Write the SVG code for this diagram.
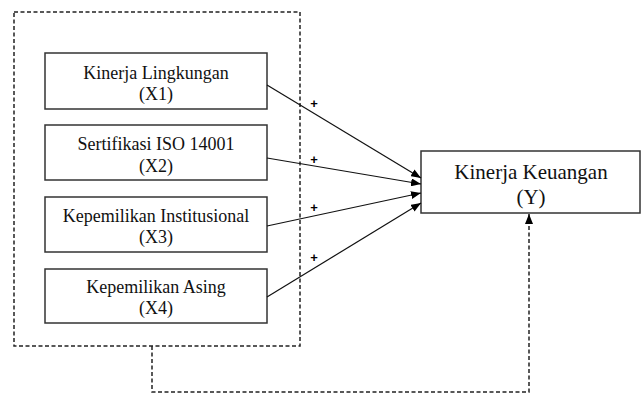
<svg xmlns="http://www.w3.org/2000/svg" width="641" height="394" viewBox="0 0 641 394">
<defs>
<marker id="ah" viewBox="0 0 10 8" refX="10" refY="4" markerWidth="10" markerHeight="8" markerUnits="userSpaceOnUse" orient="auto">
<path d="M0,0 L10,4 L0,8 Z" fill="#000"/>
</marker>
<style>
.box{fill:#fff;stroke:#333;stroke-width:1.5}
.t{font-family:"Liberation Serif","Times New Roman",serif;font-size:18px;fill:#111;text-anchor:middle}
.ty{font-family:"Liberation Serif","Times New Roman",serif;font-size:21px;fill:#111;text-anchor:middle}
.dash{fill:none;stroke:#222;stroke-width:1.5;stroke-dasharray:4 2.5}
.ln{fill:none;stroke:#111;stroke-width:1.2}
.pl{font-family:"Liberation Sans",Arial,sans-serif;font-size:13px;font-weight:bold;fill:#000;text-anchor:middle}
</style>
</defs>
<rect class="dash" x="14" y="12" width="286" height="334"/>
<g id="x1"><rect class="box" x="45" y="53" width="222" height="56"/><text class="t" x="156" y="79">Kinerja Lingkungan</text><text class="t" x="156" y="100">(X1)</text></g>
<g id="x2"><rect class="box" x="45" y="125" width="222" height="55"/><text class="t" x="156" y="150">Sertifikasi ISO 14001</text><text class="t" x="156" y="172">(X2)</text></g>
<g id="x3"><rect class="box" x="45" y="197" width="222" height="55"/><text class="t" x="156" y="222">Kepemilikan Institusional</text><text class="t" x="156" y="243">(X3)</text></g>
<g id="x4"><rect class="box" x="45" y="269" width="222" height="54"/><text class="t" x="156" y="293">Kepemilikan Asing</text><text class="t" x="156" y="314">(X4)</text></g>
<g id="y"><rect class="box" x="421" y="151" width="219" height="62"/><text class="ty" x="531" y="179">Kinerja Keuangan</text><text class="ty" x="531" y="204">(Y)</text></g>
<g id="connectors">
<line class="ln" x1="267" y1="85" x2="421" y2="178" marker-end="url(#ah)"/>
<line class="ln" x1="267" y1="158" x2="421" y2="184" marker-end="url(#ah)"/>
<line class="ln" x1="267" y1="226" x2="421" y2="193" marker-end="url(#ah)"/>
<line class="ln" x1="267" y1="297" x2="421" y2="203" marker-end="url(#ah)"/>
<path class="dash" d="M152 346 V392 H529 V214" marker-end="url(#ah)"/>
<text class="pl" x="314" y="108">+</text>
<text class="pl" x="314" y="164">+</text>
<text class="pl" x="314" y="212">+</text>
<text class="pl" x="314" y="262">+</text>
</g>
</svg>
